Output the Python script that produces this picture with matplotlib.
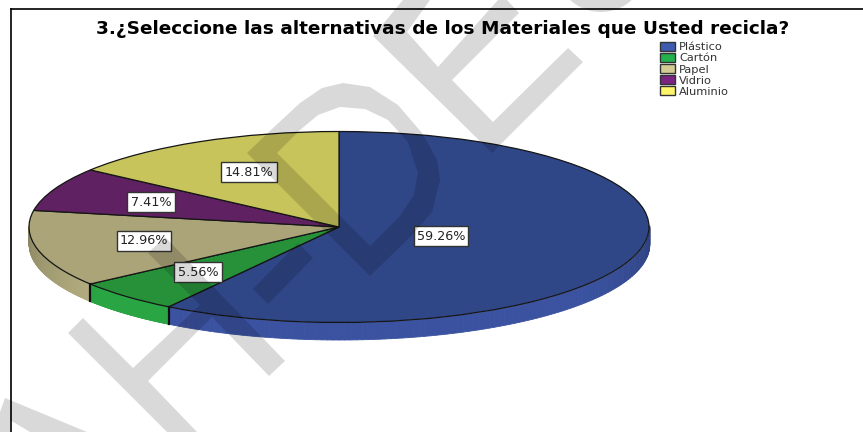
import numpy as np
import matplotlib
matplotlib.use('Agg')
import matplotlib.pyplot as plt
from matplotlib.patches import Patch, Polygon, Ellipse

plt.rcParams['font.family'] = ['DejaVu Sans']

title = '3.¿Seleccione las alternativas de los Materiales que Usted recicla?'
categories = ['Plástico', 'Cartón', 'Papel', 'Vidrio', 'Aluminio']
values = [59.26, 5.56, 12.96, 7.41, 14.81]
top_colors = ['#2f4687', '#27913a', '#aaa478', '#5f2161', '#c8c45c']
side_colors = ['#3a52a0', '#2aa543', '#b4ad80', '#6a2570', '#d6d266']
legend_colors = ['#3e5bb0', '#22b14c', '#d4cc94', '#7b2283', '#fdf56a']

# pixel geometry of the pie in the picture
W, H = 863, 432
cx, cy, rx, ry, depth = 339, 227, 310, 95.5, 17

# label centres, in pixels
label_x = [441, 198, 144, 151, 249]
label_y = [236, 272, 241, 202, 172]

# watermark shapes, in pixels
wm_H = [(68, 333), (83, 318), (133, 368), (200, 305), (148, 253), (165, 237), (285, 361),
        (269, 376), (212, 317), (148, 381), (197, 432), (167, 432)]
wm_bar = [(253, 289), (268, 304), (313, 258), (298, 243)]
wm_D = [(247, 153), (272, 129), (300, 103), (322, 88), (343, 83), (370, 87), (398, 105), (422, 133),
        (437, 160), (440, 180), (432, 212), (412, 235), (370, 276), (370, 246), (400, 216), (414, 195),
        (418, 173), (408, 142), (388, 120), (365, 109), (340, 107), (318, 115), (300, 130), (277, 153),
        (370, 246), (370, 276)]
wm_E = [(373, 36), (403, 0), (430, 0), (407, 32), (438, 67), (498, 0), (507, 0), (519, 13), (452, 80),
        (493, 122), (568, 48), (583, 62), (492, 153)]
wm_A = [(0, 412), (5, 398), (87, 432), (30, 432), (10, 420), (10, 432), (0, 432)]

fig = plt.figure(figsize=(8.63, 4.32), dpi=100)
ax = fig.add_axes([0, 0, 1, 1])

# side of the pie, shaded strip by strip
edges = np.cumsum([0] + values) / 100 * 2 * np.pi
for i in range(len(values)):
    th = np.linspace(edges[i], edges[i + 1], 200)
    for a, b in zip(th[:-1], th[1:]):
        if np.cos((a + b) / 2) > 0.02:
            continue
        shade = 0.78 + 0.22 * min(1, -np.cos((a + b) / 2) * 1.6)
        col = np.array(matplotlib.colors.to_rgb(side_colors[i])) * shade
        xs = np.array([np.sin(a), np.sin(b)]) * 1.001
        low = np.array([np.cos(a), np.cos(b)])
        ax.fill_between(xs, low, low - depth / ry, color=col, lw=0.6, antialiased=False)

# boundary lines on the side
for e in edges[1:3]:
    ax.plot([np.sin(e)] * 2, [np.cos(e), np.cos(e) - depth / ry], color='#101010', lw=1.6)

wedges, _ = ax.pie(values, colors=top_colors, startangle=90, counterclock=False,
                   wedgeprops={'edgecolor': '#151515', 'linewidth': 0.9})
ax.set_aspect('auto')
ax.set_xlim(-cx / rx, (W - cx) / rx)
ax.set_ylim(-(H - cy) / ry, cy / ry)
ax.axis('off')

# overlay in pixel coordinates: frame, title, labels, legend, watermark
ov = fig.add_axes([0, 0, 1, 1], facecolor='none')
ov.set_xlim(0, W)
ov.set_ylim(H, 0)
ov.axis('off')

ov.plot([11, 11], [H, 9], color='black', lw=1.2, solid_joinstyle='miter')
ov.plot([11, W], [9, 9], color='black', lw=1.2)
ov.text(442.5, 29, title, ha='center', va='center', fontsize=13.3, fontweight='bold', color='black')

for v, x, y in zip(values, label_x, label_y):
    ov.text(x, y, f'{v:.2f}%', ha='center', va='center', fontsize=9.2, color='#222222',
            bbox={'boxstyle': 'square,pad=0.25', 'facecolor': 'white', 'edgecolor': '#333333', 'linewidth': 1})

handles = [Patch(facecolor=c, edgecolor='#333333', linewidth=1) for c in legend_colors]
ov.legend(handles, categories, loc='upper left', bbox_to_anchor=(658 / W, 1 - 40 / H), frameon=False,
          fontsize=8.2, labelcolor='#333333', handlelength=1.25, handleheight=0.75, handletextpad=0.4,
          labelspacing=0.08, borderpad=0.2, borderaxespad=0)

wm = {'facecolor': 'black', 'edgecolor': 'none', 'alpha': 0.15, 'zorder': 20}
for shape in [wm_H, wm_bar, wm_D, wm_E, wm_A]:
    ov.add_patch(Polygon(shape, closed=True, **wm))
# bottom of a round letter, cut off by the top of the picture
ov.add_patch(Ellipse((601, -28), 86, 80, **wm))

fig.savefig('out.png', dpi=100)
